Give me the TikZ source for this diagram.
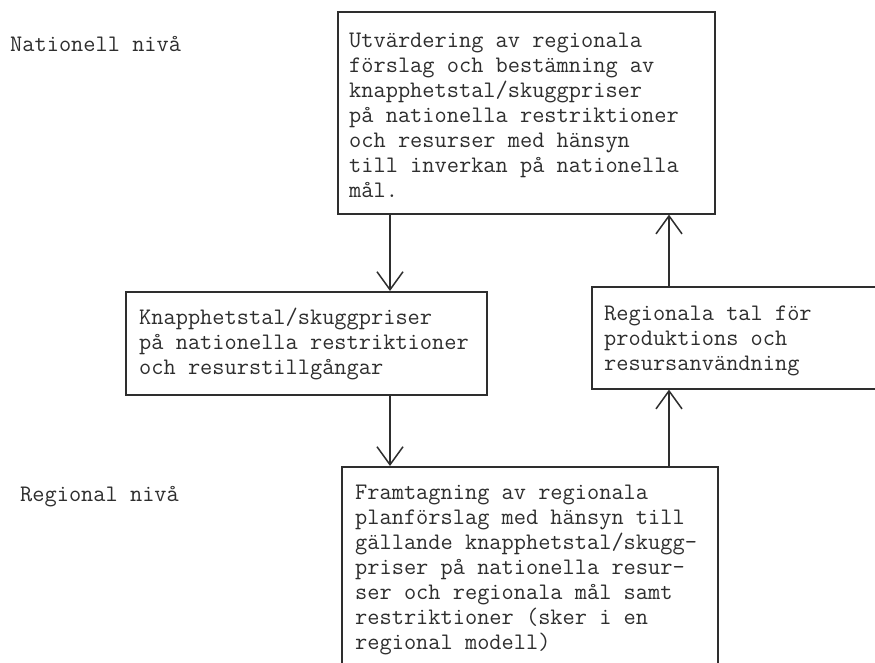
\documentclass[tikz,border=0pt]{standalone}
\usepackage{fontspec}
\usetikzlibrary{arrows.meta}
\newcommand\twfont{\ttfamily\addfontfeature{FakeBold=0.7}\fontsize{23.7}{25}\selectfont}
\newcommand\txtblock[1]{\vtop{\baselineskip=25pt\lineskiplimit=-100pt\lineskip=0pt #1}}
\definecolor{ink}{gray}{0.18}
\begin{document}
\begin{tikzpicture}[x=1pt,y=-1pt,
  box/.style={draw=ink, line width=1.6pt, anchor=north west, inner sep=0pt},
  lbl/.style={anchor=base west, inner sep=0pt, text=ink, font=\twfont},
  arr/.style={draw=ink, line width=1.5pt, -{Straight Barb[length=18pt,width=26pt]}}]
\useasboundingbox (0,0) rectangle (875,662);
\clip (0,0) rectangle (875,662);
\fill[white] (0,0) rectangle (875,662);

% boxes
\node[box, minimum width=377pt, minimum height=202pt] (top) at (337,11) {};
\node[box, minimum width=361pt, minimum height=103pt] (ml) at (125,291) {};
\node[box, minimum width=330pt, minimum height=102pt] (mr) at (591,286) {};
\node[box, minimum width=376pt, minimum height=240pt] (bot) at (341,466) {};

% level labels
\node[lbl] (nat) at (10,51) {Nationell nivå};
\node[lbl] (reg) at (20,501) {Regional nivå};

% texts
\node[lbl] (ttop) at (349,47) {\txtblock{%
  \hbox{Utvärdering av regionala}%
  \hbox{förslag och bestämning av}%
  \hbox{knapphetstal/skuggpriser}%
  \hbox{på nationella restriktioner}%
  \hbox{och resurser med hänsyn}%
  \hbox{till inverkan på nationella}%
  \hbox{mål.}}};
\node[lbl] (tml) at (139,324) {\txtblock{%
  \hbox{Knapphetstal/skuggpriser}%
  \hbox{på nationella restriktioner}%
  \hbox{och resurstillgångar}}};
\node[lbl] (tmr) at (604,320) {\txtblock{%
  \hbox{Regionala tal för}%
  \hbox{produktions och}%
  \hbox{resursanvändning}}};
\node[lbl] (tbot) at (355,499) {\txtblock{%
  \hbox{Framtagning av regionala}%
  \hbox{planförslag med hänsyn till}%
  \hbox{gällande knapphetstal/skugg-}%
  \hbox{priser på nationella resur-}%
  \hbox{ser och regionala mål samt}%
  \hbox{restriktioner (sker i en}%
  \hbox{regional modell)}}};

% connectors
\coordinate (xl) at (390,0);
\coordinate (xr) at (669,0);
\draw[arr] (xl |- top.south) -- (xl |- ml.north);
\draw[arr] (xl |- ml.south) -- (xl |- bot.north);
\draw[arr] (xr |- bot.north) -- (xr |- mr.south);
\draw[arr] (xr |- mr.north) -- (xr |- top.south);
\end{tikzpicture}
\end{document}
